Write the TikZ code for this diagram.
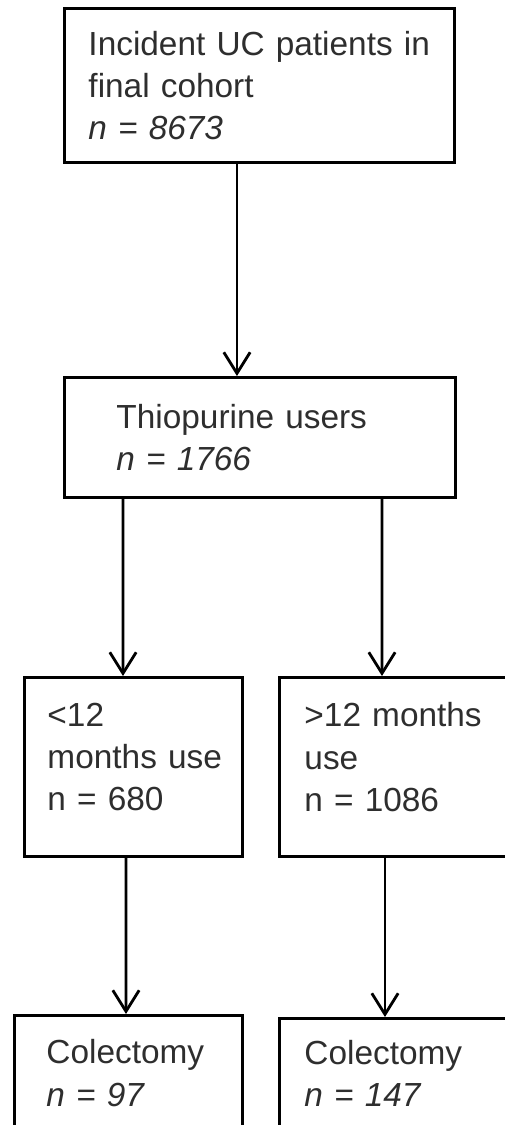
\documentclass[tikz,border=0pt]{standalone}
\usepackage{fontspec}
\setmainfont{Liberation Sans}
\usetikzlibrary{arrows.meta}
\definecolor{txtgray}{HTML}{2E2E2E}

\begin{document}
\begin{tikzpicture}[x=0.02cm, y=-0.02cm,
  box/.style={draw, line width=1.7pt, anchor=north west, align=left, inner ysep=0pt,
    font=\fontsize{19}{24}\selectfont, text=txtgray},
  arr/.style={line width=1.6pt, -{Straight Barb[length=12pt,width=15pt,line width=1.6pt]}}]

\useasboundingbox (0,0) rectangle (504,1125);

% boxes
\node[box, inner xsep=0.48cm, text width=6.84cm, minimum height=3.08cm] (cohort) at (63,7)
  {Incident UC patients in\\ final cohort\\ \textit{n = 8673}};
\node[box, inner xsep=1.04cm, text width=5.74cm, minimum height=2.4cm] (users) at (63,376)
  {Thiopurine users\\ \textit{n = 1766}};
\node[box, inner xsep=0.46cm, text width=3.44cm, minimum height=3.58cm] (short) at (23,676)
  {<12\\ months~use\\ n = 680\rule[-0.4cm]{0pt}{0pt}};
\node[box, inner xsep=0.5cm, text width=3.64cm, minimum height=3.58cm] (long) at (278,676)
  {>12~months\\ use\\ n = 1086\rule[-0.4cm]{0pt}{0pt}};
\node[box, inner xsep=0.64cm, text width=3.28cm, minimum height=2.3cm] (colshort) at (13,1014)
  {Colectomy\\ \textit{n = 97}};
\node[box, inner xsep=0.5cm, text width=3.64cm, minimum height=2.2cm] (collong) at (278,1017)
  {Colectomy\\ \textit{n = 147}};

% arrows
\draw[arr] ([xshift=3.48cm]cohort.south west) -- ([xshift=3.48cm]users.north west);
\draw[arr] ([xshift=1.2cm]users.south west) -- ([xshift=2cm]short.north west);
\draw[arr] ([xshift=6.38cm]users.south west) -- ([xshift=2.08cm]long.north west);
\draw[arr] ([xshift=2.06cm]short.south west) -- ([xshift=2.26cm]colshort.north west);
\draw[arr] ([xshift=2.14cm]long.south west) -- ([xshift=2.14cm]collong.north west);
\end{tikzpicture}
\end{document}
